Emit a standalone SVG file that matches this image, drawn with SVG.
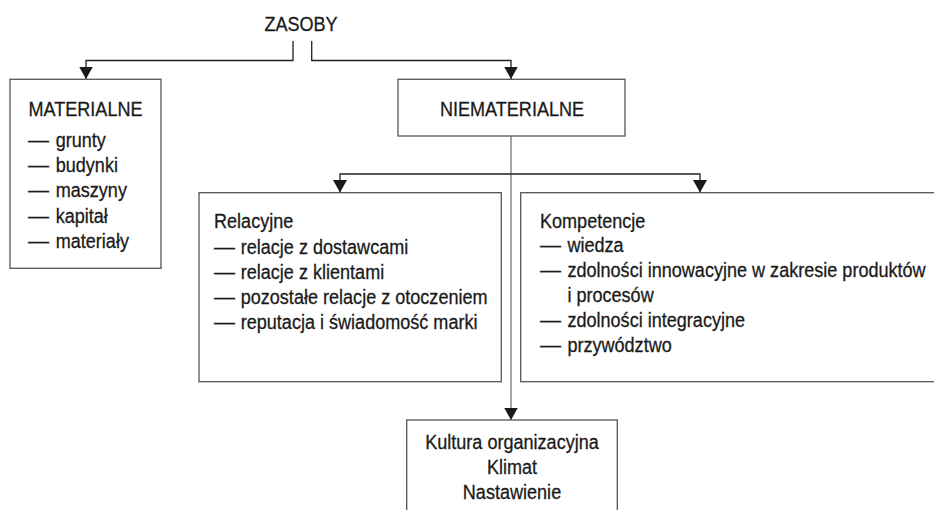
<svg xmlns="http://www.w3.org/2000/svg" width="934" height="510" viewBox="0 0 934 510">
  <style>
    text { font-family: "Liberation Sans", Arial, sans-serif; font-size: 21px; fill: #1a1a1a; stroke: #1a1a1a; stroke-width: 0.3; }
    .mid { text-anchor: middle; }
    .box { fill: #ffffff; stroke: #555555; stroke-width: 1.3; }
    .conn { fill: none; stroke: #222222; stroke-width: 1.3; }
    .trunk { fill: none; stroke: #777777; stroke-width: 1.3; }
  </style>
  <defs>
    <marker id="arrow" markerUnits="userSpaceOnUse" markerWidth="13" markerHeight="14" refX="12.5" refY="7" orient="auto">
      <path d="M0,0 L12.5,7 L0,14 z" fill="#1a1a1a"/>
    </marker>
  </defs>
  <rect width="934" height="510" fill="#ffffff"/>

  <g id="connectors">
    <path class="conn" d="M293,41 V60.5 H86 V79" marker-end="url(#arrow)"/>
    <path class="conn" d="M311.7,41 V60.5 H511 V79" marker-end="url(#arrow)"/>
    <path class="trunk" d="M511,136 V420" marker-end="url(#arrow)"/>
    <path class="conn" d="M511,174 H340 V192.5" marker-end="url(#arrow)"/>
    <path class="conn" d="M511,174 H700 V192.5" marker-end="url(#arrow)"/>
  </g>

  <g id="zasoby">
    <text class="mid" transform="translate(301,31) scale(0.86,1)">ZASOBY</text>
  </g>

  <g id="materialne">
    <rect class="box" x="10" y="79.3" width="151" height="189"/>
    <text class="mid" transform="translate(85.5,116) scale(0.86,1)">MATERIALNE</text>
    <text x="28" y="146.5">—</text><text transform="translate(55.7,146.5) scale(0.86,1)">grunty</text>
    <text x="28" y="171.5">—</text><text transform="translate(55.7,171.5) scale(0.86,1)">budynki</text>
    <text x="28" y="197">—</text><text transform="translate(55.7,197) scale(0.86,1)">maszyny</text>
    <text x="28" y="222.5">—</text><text transform="translate(55.7,222.5) scale(0.86,1)">kapitał</text>
    <text x="28" y="248">—</text><text transform="translate(55.7,248) scale(0.86,1)">materiały</text>
  </g>

  <g id="niematerialne">
    <rect class="box" x="398" y="79.3" width="227" height="56.7"/>
    <text class="mid" transform="translate(512,116) scale(0.86,1)">NIEMATERIALNE</text>
  </g>

  <g id="relacyjne">
    <rect class="box" x="199" y="192.7" width="302.3" height="189"/>
    <text transform="translate(214,228.3) scale(0.86,1)">Relacyjne</text>
    <text x="214" y="253.5">—</text><text transform="translate(240.7,253.5) scale(0.86,1)">relacje z dostawcami</text>
    <text x="214" y="278.8">—</text><text transform="translate(240.7,278.8) scale(0.86,1)">relacje z klientami</text>
    <text x="214" y="304">—</text><text transform="translate(240.7,304) scale(0.86,1)">pozostałe relacje z otoczeniem</text>
    <text x="214" y="329.3">—</text><text transform="translate(240.7,329.3) scale(0.86,1)">reputacja i świadomość marki</text>
  </g>

  <g id="kompetencje">
    <rect class="box" x="520.7" y="192.7" width="420" height="189"/>
    <text transform="translate(540,227.5) scale(0.86,1)">Kompetencje</text>
    <text x="540" y="252">—</text><text transform="translate(567.4,252) scale(0.86,1)">wiedza</text>
    <text x="540" y="277">—</text><text transform="translate(567.4,277) scale(0.86,1)">zdolności innowacyjne w zakresie produktów</text>
    <text transform="translate(567.4,302) scale(0.86,1)">i procesów</text>
    <text x="540" y="327">—</text><text transform="translate(567.4,327) scale(0.86,1)">zdolności integracyjne</text>
    <text x="540" y="352">—</text><text transform="translate(567.4,352) scale(0.86,1)">przywództwo</text>
  </g>

  <g id="kultura">
    <rect class="box" x="406.7" y="420" width="210.6" height="100"/>
    <text class="mid" transform="translate(512,449) scale(0.86,1)">Kultura organizacyjna</text>
    <text class="mid" transform="translate(512,474.3) scale(0.86,1)">Klimat</text>
    <text class="mid" transform="translate(512,499.3) scale(0.86,1)">Nastawienie</text>
  </g>
</svg>
